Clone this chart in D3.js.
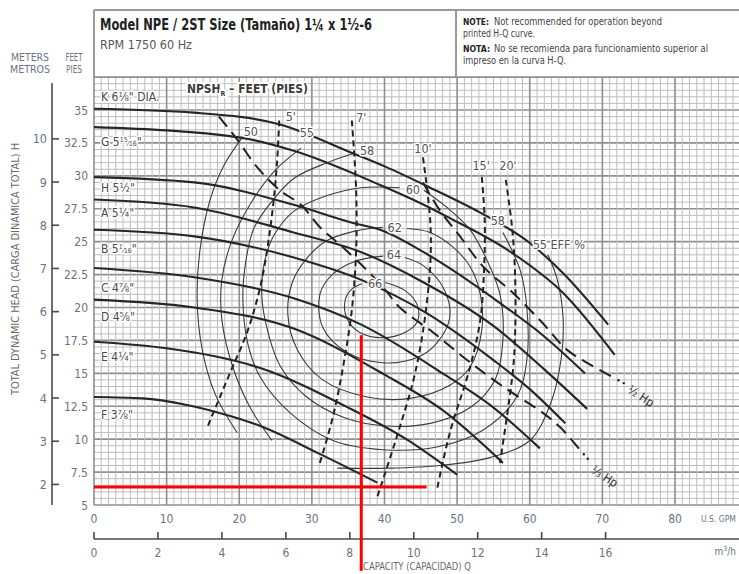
<!DOCTYPE html>
<html><head><meta charset="utf-8">
<script src="https://cdn.jsdelivr.net/npm/d3@7"></script>
<style>
body{margin:0;background:#fff;}
svg{display:block;font-family:"Liberation Sans Narrow","DejaVu Sans Condensed","Arial Narrow",sans-serif;}
</style></head><body>
<svg id="c" width="739" height="574"></svg>
<script>
// ---------- DATA ----------
const gpmTicks = [0,10,20,30,40,50,60,70,80];
const feetTicks = [5,7.5,10,12.5,15,17.5,20,22.5,25,27.5,30,32.5,35];
const meterTicks = [2,3,4,5,6,7,8,9,10];
const m3hTicks = [0,2,4,6,8,10,12,14,16];

// head-capacity curves [gpm, ft]
const headK = [[0,35.1],[13.8,34.8],[25.6,33.9],[35.7,31.7],[40.1,30.7],[46.3,29.1],[53.2,27.2],[60,24.9],[64.6,22.6],[70.8,18.7]];
const headG = [[0,33.7],[20.2,32.9],[27.5,31.9],[39.4,29.3],[45.4,27.8],[48.6,26.9],[57.7,24.1],[64.6,21.1],[71.7,16.4]];
const headH = [[0,29.9],[13.8,29.5],[27.5,27.8],[35.8,26.4],[39.4,25.9],[45.4,24.2],[56,20.3],[62,17.8],[67.6,15.0]];
const headA = [[0,28.2],[13.8,27.6],[27.5,25.7],[36.8,24.2],[45.4,21.9],[55,18.6],[62,15.3],[67.9,12.3]];
const headB = [[0,25.9],[13.8,25.4],[27.5,23.8],[36.8,22.1],[45.4,19.7],[55,16.0],[60,13.8],[64.9,11.2]];
const headC = [[0,23.0],[13.8,22.3],[27.5,20.7],[36.8,18.7],[48,15.0],[55,12.4],[61.4,9.3]];
const headD = [[0,20.6],[13.8,20.0],[27.5,18.4],[40,14.9],[48,12.2],[56.3,8.2]];
const headE = [[0,17.4],[10,16.9],[22.9,15.4],[35,12.4],[43,10.0],[50,7.3]];
const headF = [[0,13.2],[6.7,13.1],[12.8,12.6],[19.1,11.7],[22.9,11.0],[31,8.9],[39,6.7]];
const impellerNames = ["K","G","H","A","B","C","D","E","F"];
const impellerDia = [["6","⅛","\" DIA."],["5","15/16","\""],["5","½","\""],["5","¼","\""],["5","1/16","\""],["4","⅞","\""],["4","⅝","\""],["4","¼","\""],["3","⅞","\""]];
const impellerLabelHead = [36.0,32.6,29.1,27.25,24.5,21.55,19.3,16.25,11.9];

// efficiency contours [gpm, ft]
const eff50 = [[20.4,32.9],[17.9,30.8],[16.0,28.2],[14.6,24.4],[14.2,20.6],[14.9,16.8],[16.7,13.4],[19.7,10.5]];
const eff55L = [[28.5,32.1],[24.9,30.4],[21.9,28.2],[19.0,25.1],[17.6,22.1],[17.6,19.1],[19.1,15.5],[21.5,12.4],[24.5,9.9]];
const eff58 = [[35.7,31.7],[32.1,31.0],[27.5,29.8],[24.4,28.0],[22.0,26.0],[20.9,23.5],[20.5,20.6],[21.2,17.2],[22.9,14.7],[27.0,12.0],[32.9,9.9],[39.8,9.2],[47.2,9.4],[53.6,10.7],[58.2,13.2],[59.6,16.0],[59.6,20.0],[58.7,22.8],[56.3,25.7]];
const eff60 = [[45.4,28.9],[48.6,27.6],[51.8,25.9],[54.1,23.6],[55.9,21.0],[56.3,17.5],[55.2,14.5],[51.8,12.4],[46.3,11.2],[40.1,11.0],[34.6,11.6],[29.3,13.2],[25.6,15.6],[23.7,18.7],[23.1,21.0],[23.5,23.5],[24.8,25.5],[27.5,27.3],[32.1,28.5],[36.8,29.1],[42.1,29.1]];
const eff62 = [[43.1,26.0],[46.3,25.7],[49.4,24.6],[51.8,23.1],[53.2,21.0],[53.4,18.3],[51.8,15.5],[49.0,14.1],[43.5,13.1],[37.6,13.2],[31.5,14.5],[28.0,16.8],[26.7,19.4],[27.3,21.9],[29.1,23.6],[31.8,25.0],[35.9,25.8],[39.8,26.1]];
const eff64 = [[42.8,23.8],[45.3,23.2],[48.1,21.5],[49.0,19.3],[47.2,17.3],[44.5,16.2],[39.8,15.8],[34.8,16.6],[31.5,18.5],[31.1,21.0],[32.8,22.5],[35.9,23.5],[39.8,23.9]];
const eff66 = [[40.1,21.9],[42.8,21.3],[44.5,20.2],[44.5,18.9],[42.8,18.1],[39.8,17.7],[36.6,18.1],[34.8,19.2],[34.6,20.6],[35.5,21.4],[36.9,21.8]];
const eff55R = [[62.5,24.0],[63.8,22.1],[64.6,19.1],[64.3,16.0],[62.8,12.6],[60.0,9.9],[54.5,8.6],[47.6,8.0],[40.8,7.8],[33.5,7.8]];
const effLabels = [["50",21.6,33.4],["55",29.3,33.3],["58",37.6,31.9],["60",43.9,29.0],["62",41.4,26.1],["64",41.3,24.0],["66",38.7,21.8],["58",55.6,26.6]];
const effTitle = ["55","EFF %",60.4,24.8];

// NPSHr curves [gpm, ft]
const npsh5 = [[25.5,34.2],[25.2,31.0],[24.5,27.0],[23.1,22.1],[21.2,18.3],[18.7,15.0],[15.6,10.9]];
const npsh7 = [[35.5,34.2],[36.1,28.9],[36.1,24.4],[35.5,19.8],[34.3,15.5],[32.9,11.7],[31.1,8.2]];
const npsh10 = [[45.3,31.4],[46.3,26.6],[46.3,23.2],[45.7,19.8],[45.0,17.2],[43.9,14.3],[41.7,10.2],[39.0,5.6]];
const npsh15 = [[53.4,29.9],[53.8,26.6],[53.7,22.8],[53.2,19.1],[51.8,15.5],[49.0,10.5],[47.2,6.1]];
const npsh20 = [[56.7,29.7],[57.6,25.9],[58.0,22.1],[58.0,18.3],[57.7,15.3],[55.9,8.2]];
const npshLabels = [["5'",27.1,34.5],["7'",36.8,34.4],["10'",45.3,32.1],["15'",53.3,30.8],["20'",57.0,30.8]];

// horsepower lines [gpm, ft]
const hpHalf = [[45.3,29.5],[47.6,27.4],[50.4,25.4],[53.6,23.1],[57.7,21.1],[61.8,18.8],[65.1,16.8],[67.9,15.8],[71.5,14.7]];
const hpThird = [[17.2,34.5],[19.8,32.7],[22.4,30.7],[25.6,28.9],[28.5,27.8],[31.1,26.1],[34.0,24.7],[38.0,22.6],[40.3,21.2],[42.1,20.0],[46.7,18.1],[51.4,16.0],[56.3,14.0],[61.8,12.0],[64.2,10.9],[66.9,9.2]];
const hpLabels = [["½ Hp",75.0,13.0],["⅓ Hp",70.0,6.9]];

// red operating-point marks
const redQ = 36.8, redQTop = 17.9, redH = 6.37, redHEnd = 45.8;

// ---------- DRAW ----------
const svg = d3.select("#c");
const x = d3.scaleLinear().domain([0,80]).range([94,675]);
const y = d3.scaleLinear().domain([5,35]).range([505,110]);
const W = 739, gridTopH = 37.5, gridRightQ = x.invert(W);
const GPM_PER_M3H = 4.40287, FT_PER_M = 3.28084;

// grid
const g = svg.append("g");
d3.range(0, 37.5*2+1).map(i=>5+i*0.5).filter(v=>v<=gridTopH).forEach(v=>{
  const maj = Math.abs((v-5)/2.5 - Math.round((v-5)/2.5))<1e-6;
  g.append("line").attr("x1",x(0)).attr("x2",W).attr("y1",y(v)).attr("y2",y(v))
   .attr("stroke",maj?"#8e8e8e":"#bdbdbd").attr("stroke-width",maj?1.6:1);
});
d3.range(0, Math.floor(gridRightQ)+1).forEach(v=>{
  const maj = v%10===0;
  g.append("line").attr("x1",x(v)).attr("x2",x(v)).attr("y1",y(5)).attr("y2",y(gridTopH))
   .attr("stroke",maj?"#8e8e8e":"#bdbdbd").attr("stroke-width",maj?1.6:1);
});

// header box
const hTop = 10, hBot = y(gridTopH);
svg.append("rect").attr("x",x(0)).attr("y",hTop).attr("width",W-x(0)).attr("height",hBot-hTop).attr("fill","#fff");
svg.append("line").attr("x1",x(0)).attr("x2",W).attr("y1",hTop).attr("y2",hTop).attr("stroke","#9a9a9a").attr("stroke-width",2);
svg.append("line").attr("x1",x(0)).attr("x2",x(0)).attr("y1",hTop).attr("y2",hBot).attr("stroke","#9a9a9a").attr("stroke-width",2);
svg.append("line").attr("x1",456).attr("x2",456).attr("y1",hTop).attr("y2",hBot).attr("stroke","#9a9a9a").attr("stroke-width",2);
svg.append("line").attr("x1",x(0)).attr("x2",W).attr("y1",hBot).attr("y2",hBot).attr("stroke","#8e8e8e").attr("stroke-width",1.6);
svg.append("text").attr("x",100).attr("y",30).attr("font-size",16).attr("font-weight","bold").attr("fill","#222")
  .attr("textLength",272).attr("lengthAdjust","spacingAndGlyphs")
  .text("Model NPE / 2ST Size (Tamaño) 1¼ x 1½-6");
svg.append("text").attr("x",100).attr("y",49).attr("font-size",12.5).attr("fill","#555")
  .attr("textLength",92).attr("lengthAdjust","spacingAndGlyphs").text("RPM 1750 60 Hz");
const note = svg.append("g").attr("font-size",10.5).attr("fill","#444");
const nl = (txt,xx,yy,len,bold,fs)=>{
  const e = note.append("text").attr("x",xx).attr("y",yy).attr("textLength",len).attr("lengthAdjust","spacingAndGlyphs").text(txt);
  if (bold) e.attr("font-weight","bold").attr("fill","#222");
  if (fs) e.attr("font-size",fs);
};
nl("NOTE:",463,25,26,true,9.5);
nl("Not recommended for operation beyond",494,25,168,false);
nl("printed H-Q curve.",463,37,72,false);
nl("NOTA:",463,52,27,true,9.5);
nl("No se recomienda para funcionamiento superior al",494,52,214,false);
nl("impreso en la curva H-Q.",463,64,103,false);

// left axes
const tickCol = "#6a7383";
const smallLbl = (txt,cx,yy,len)=>svg.append("text").attr("x",cx-len/2).attr("y",yy).attr("font-size",10).attr("fill",tickCol)
  .attr("textLength",len).attr("lengthAdjust","spacingAndGlyphs").text(txt);
smallLbl("METERS",30,61,38); smallLbl("METROS",30,73,40);
smallLbl("FEET",74,61,17); smallLbl("PIES",74,73,16);
svg.append("line").attr("x1",52).attr("x2",52).attr("y1",83).attr("y2",y(5)).attr("stroke","#4a4a4a").attr("stroke-width",1.6);
meterTicks.forEach(m=>{
  const yy = y(m*FT_PER_M);
  svg.append("line").attr("x1",52).attr("x2",59).attr("y1",yy).attr("y2",yy).attr("stroke","#4a4a4a").attr("stroke-width",1.6);
  svg.append("text").attr("x",47).attr("y",yy+4.5).attr("text-anchor","end").attr("font-size",12.5).attr("fill",tickCol).text(m);
});
feetTicks.forEach(f=>{
  svg.append("text").attr("x",88).attr("y",y(f)+4.5).attr("text-anchor","end").attr("font-size",12).attr("fill",tickCol).text(f);
});
svg.append("text").attr("transform","translate(19,395) rotate(-90)").attr("font-size",10).attr("fill","#6a6a6a")
  .attr("textLength",252).attr("lengthAdjust","spacingAndGlyphs")
  .text("TOTAL DYNAMIC HEAD (CARGA DINAMICA TOTAL) H");

// bottom axes
gpmTicks.forEach(v=>{
  svg.append("text").attr("x",x(v)).attr("y",523).attr("text-anchor","middle").attr("font-size",12).attr("fill",tickCol).text(v);
});
svg.append("text").attr("x",701).attr("y",522).attr("font-size",8.4).attr("fill",tickCol)
  .attr("textLength",35).attr("lengthAdjust","spacingAndGlyphs").text("U.S. GPM");
const m3y = 539;
svg.append("line").attr("x1",x(0)).attr("x2",W).attr("y1",m3y).attr("y2",m3y).attr("stroke","#4a4a4a").attr("stroke-width",1.6);
m3hTicks.forEach(v=>{
  const xx = x(v*GPM_PER_M3H);
  svg.append("line").attr("x1",xx).attr("x2",xx).attr("y1",m3y).attr("y2",m3y-7).attr("stroke","#4a4a4a").attr("stroke-width",1.6);
  svg.append("text").attr("x",xx).attr("y",557).attr("text-anchor","middle").attr("font-size",12).attr("fill",tickCol).text(v);
});
let mt = svg.append("text").attr("x",736).attr("y",555).attr("text-anchor","end").attr("font-size",10).attr("fill",tickCol);
mt.append("tspan").text("m");
mt.append("tspan").attr("font-size",7).attr("dy",-4).text("3");
mt.append("tspan").attr("dy",4).text("/h");
svg.append("text").attr("x",363).attr("y",570).attr("font-size",10).attr("fill","#6a6a6a")
  .attr("textLength",108).attr("lengthAdjust","spacingAndGlyphs").text("CAPACITY (CAPACIDAD) Q");

// curve helpers
const lineMono = d3.line().x(d=>x(d[0])).y(d=>y(d[1])).curve(d3.curveMonotoneX);
const lineCR = d3.line().x(d=>x(d[0])).y(d=>y(d[1])).curve(d3.curveCatmullRom.alpha(0.5));
const halo = sel => sel.attr("stroke","#fff").attr("stroke-width",3).attr("paint-order","stroke").attr("stroke-linejoin","round");

// efficiency contours
[eff50,eff55L,eff58,eff60,eff62,eff64,eff66,eff55R].forEach(c=>{
  svg.append("path").attr("d",lineCR(c)).attr("fill","none").attr("stroke","#3c3c3c").attr("stroke-width",1.1);
});

// NPSH dashed
[npsh5,npsh7,npsh10,npsh15,npsh20].forEach(c=>{
  svg.append("path").attr("d",lineCR(c)).attr("fill","none").attr("stroke","#222").attr("stroke-width",2).attr("stroke-dasharray","6,4");
});

// HP lines
[hpHalf,hpThird].forEach(c=>{
  svg.append("path").attr("d",lineCR(c)).attr("fill","none").attr("stroke","#222").attr("stroke-width",2).attr("stroke-dasharray","13,7");
  const a = c[c.length-2], b = c[c.length-1];
  const dx = x(b[0])-x(a[0]), dy = y(b[1])-y(a[1]), L = Math.hypot(dx,dy);
  [6,12].forEach(s=>{
    svg.append("circle").attr("cx",x(b[0])+dx/L*s).attr("cy",y(b[1])+dy/L*s).attr("r",1.2).attr("fill","#222");
  });
});
hpLabels.forEach(l=>{
  svg.append("text").attr("transform",`translate(${x(l[1])},${y(l[2])}) rotate(33)`).attr("text-anchor","middle")
    .attr("font-size",12).attr("fill","#333").text(l[0]);
});

// head curves
[headK,headG,headH,headA,headB,headC,headD,headE,headF].forEach(c=>{
  svg.append("path").attr("d",lineMono(c)).attr("fill","none").attr("stroke","#262626").attr("stroke-width",2.1);
});

// labels
impellerNames.forEach((n,i)=>{
  const d = impellerDia[i];
  const tx = svg.append("text").attr("x",x(0)+7).attr("y",y(impellerLabelHead[i])+4.5).attr("font-size",12).attr("fill","#4a4a4a").call(halo);
  tx.append("tspan").text(n+" "+d[0]);
  if (d[1].includes("/")) {
    const [nu,de] = d[1].split("/");
    tx.append("tspan").attr("font-size",7).attr("dy",-4).text(nu);
    tx.append("tspan").attr("font-size",7).attr("dy",4).text("⁄"+de);
  } else tx.append("tspan").text(d[1]);
  tx.append("tspan").text(d[2]);
});
effLabels.forEach(l=>{
  svg.append("text").attr("x",x(l[1])).attr("y",y(l[2])+4.5).attr("text-anchor","middle").attr("font-size",12.5).attr("fill","#555").call(halo).text(l[0]);
});
svg.append("text").attr("x",x(effTitle[2])).attr("y",y(effTitle[3])+4.5).attr("font-size",12.5).attr("fill","#555").call(halo)
  .text(effTitle[0]+"  "+effTitle[1]);
npshLabels.forEach(l=>{
  svg.append("text").attr("x",x(l[1])).attr("y",y(l[2])+4.5).attr("text-anchor","middle").attr("font-size",12.5).attr("fill","#555").call(halo).text(l[0]);
});
let nt = svg.append("text").attr("x",187).attr("y",y(36.3)).attr("font-size",12).attr("font-weight","bold").attr("fill","#3a3a3a")
  .attr("stroke","#fff").attr("stroke-width",4).attr("paint-order","stroke")
  .attr("textLength",121).attr("lengthAdjust","spacingAndGlyphs");
nt.append("tspan").text("NPSH");
nt.append("tspan").attr("font-size",7).attr("dy",3).text("R");
nt.append("tspan").attr("dy",-3).text(" – FEET (PIES)");

// red marks
svg.append("line").attr("x1",x(0)).attr("x2",x(redHEnd)).attr("y1",y(redH)).attr("y2",y(redH)).attr("stroke","#ff0000").attr("stroke-width",3);
svg.append("line").attr("x1",x(redQ)).attr("x2",x(redQ)).attr("y1",y(redQTop)).attr("y2",y(0)).attr("stroke","#ff0000").attr("stroke-width",3);
</script></body></html>
